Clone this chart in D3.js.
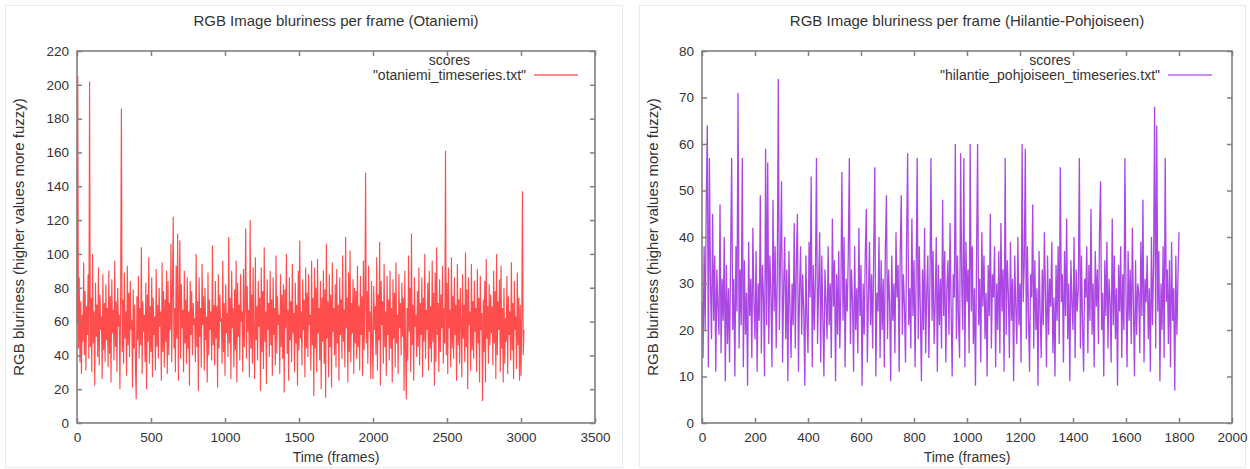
<!DOCTYPE html>
<html>
<head>
<meta charset="utf-8">
<script src="https://cdn.jsdelivr.net/npm/d3@7"></script>
<style>
  body { margin: 0; background: #fff; }
  text { font-family: "Liberation Sans", Arial, sans-serif; fill: #333; }
</style>
</head>
<body>
<svg id="chart"></svg>
<script>
// blur score, one value every `step` frames
var otaniemiStep = 5;
var otaniemiScores = [
  58, 205, 44, 86, 36, 72, 29, 64, 48, 95, 40, 78, 31, 69, 52, 88, 38, 202, 45, 74,
  30, 100, 47, 66, 22, 83, 51, 70, 39, 92, 34, 76, 55, 63, 26, 88, 43, 71, 36, 82,
  49, 68, 33, 90, 41, 75, 24, 85, 53, 67, 37, 96, 45, 72, 30, 80, 57, 64, 20, 78,
  186, 42, 73, 35, 89, 50, 66, 28, 93, 46, 77, 39, 84, 55, 61, 21, 79, 44, 70, 33,
  14, 75, 49, 87, 38, 68, 46, 104, 29, 72, 54, 64, 36, 83, 20, 76, 48, 98, 35, 69,
  42, 86, 27, 74, 52, 63, 31, 91, 45, 70, 38, 80, 57, 66, 25, 95, 42, 78, 33, 73,
  48, 90, 29, 84, 40, 71, 55, 106, 36, 79, 122, 44, 68, 30, 93, 50, 112, 25, 74, 108,
  38, 82, 56, 67, 30, 90, 47, 73, 35, 86, 44, 66, 22, 84, 52, 78, 40, 71, 58, 62,
  36, 100, 45, 72, 19, 86, 51, 68, 33, 94, 58, 75, 31, 80, 49, 63, 24, 89, 40, 73,
  55, 66, 37, 105, 46, 70, 34, 84, 50, 69, 21, 88, 44, 76, 60, 62, 35, 96, 42, 71,
  28, 82, 53, 65, 39, 110, 47, 74, 26, 90, 56, 68, 33, 79, 43, 96, 24, 83, 51, 70,
  37, 88, 60, 66, 30, 91, 45, 72, 115, 38, 81, 54, 67, 27, 120, 44, 76, 35, 92, 50,
  26, 98, 49, 69, 37, 84, 57, 74, 19, 92, 42, 78, 32, 104, 48, 66, 23, 85, 55, 71,
  39, 90, 46, 73, 28, 86, 52, 68, 34, 99, 41, 75, 58, 64, 29, 88, 45, 76, 38, 82,
  18, 79, 56, 100, 41, 67, 25, 86, 49, 72, 36, 94, 53, 65, 30, 83, 47, 70, 22, 90,
  43, 108, 50, 66, 34, 85, 55, 73, 27, 92, 44, 77, 39, 88, 58, 64, 31, 96, 46, 74,
  16, 92, 44, 80, 30, 97, 53, 68, 37, 84, 20, 74, 48, 90, 35, 79, 15, 106, 50, 72,
  27, 88, 45, 76, 21, 95, 54, 68, 40, 82, 33, 91, 47, 70, 25, 86, 52, 73, 38, 99,
  48, 67, 33, 110, 56, 74, 24, 89, 42, 102, 36, 71, 53, 85, 29, 80, 47, 78, 38, 93,
  45, 69, 31, 87, 52, 75, 28, 96, 43, 70, 148, 47, 78, 35, 93, 54, 66, 26, 84, 49,
  26, 81, 55, 69, 40, 98, 31, 76, 49, 107, 22, 84, 58, 72, 35, 94, 45, 66, 28, 87,
  52, 73, 37, 90, 44, 68, 24, 85, 50, 77, 33, 95, 47, 64, 29, 88, 56, 71, 40, 83,
  51, 74, 19, 90, 43, 14, 68, 37, 99, 54, 80, 30, 112, 46, 70, 25, 86, 57, 64, 39,
  78, 45, 92, 34, 71, 52, 86, 27, 74, 48, 100, 38, 67, 55, 83, 31, 90, 44, 69, 36,
  96, 48, 77, 22, 89, 36, 104, 52, 71, 30, 85, 42, 76, 56, 93, 35, 68, 47, 161, 40,
  83, 29, 92, 56, 67, 33, 98, 44, 75, 38, 86, 52, 70, 25, 94, 46, 73, 35, 80, 58,
  27, 88, 50, 70, 36, 101, 45, 79, 20, 86, 58, 66, 31, 94, 43, 72, 38, 84, 54, 68,
  30, 91, 47, 74, 24, 87, 55, 65, 13, 73, 42, 84, 24, 97, 50, 69, 35, 82, 46, 76,
  53, 69, 34, 90, 47, 78, 26, 100, 40, 72, 55, 85, 30, 93, 44, 68, 24, 80, 35, 62,
  48, 87, 29, 75, 52, 66, 37, 95, 43, 71, 26, 84, 55, 63, 32, 89, 46, 74, 25, 70,
  28, 60, 137, 40, 55
];

var hilantieStep = 4;
var hilantieScores = [
  26, 14, 38, 20, 47, 64, 12, 57, 30, 18, 45, 22, 36, 11, 33, 25, 19, 47, 15, 31,
  22, 40, 9, 34, 17, 29, 13, 36, 57, 20, 31, 10, 38, 24, 71, 16, 33, 21, 57, 12,
  35, 19, 28, 8, 39, 23, 31, 14, 42, 26, 18, 37, 11, 30, 22, 49, 15, 34, 27, 10,
  59, 21, 56, 17, 36, 28, 12, 48, 24, 38, 16, 31, 74, 20, 35, 52, 13, 29, 40, 18,
  33, 9, 37, 25, 14, 30, 21, 43, 16, 34, 45, 11, 28, 38, 19, 32, 24, 8, 36, 22,
  15, 39, 27, 53, 12, 34, 20, 31, 57, 17, 29, 41, 13, 36, 23, 10, 33, 26, 18, 38,
  21, 30, 14, 44, 25, 35, 9, 32, 19, 37, 16, 28, 54, 22, 40, 12, 31, 24, 36, 57,
  17, 33, 26, 11, 38, 20, 29, 15, 42, 23, 34, 8, 30, 19, 36, 46, 13, 27, 39, 21,
  32, 16, 37, 55, 10, 28, 24, 40, 14, 35, 20, 31, 12, 38, 49, 18, 33, 26, 9, 36,
  22, 30, 15, 41, 27, 34, 11, 37, 49, 19, 32, 25, 13, 39, 58, 21, 29, 16, 44, 23,
  35, 12, 31, 57, 18, 38, 24, 9, 33, 20, 42, 15, 28, 36, 14, 30, 57, 22, 37, 17,
  26, 40, 11, 34, 21, 31, 16, 48, 23, 37, 13, 29, 35, 19, 43, 25, 10, 32, 27, 60,
  18, 36, 22, 14, 58, 30, 20, 57, 12, 39, 26, 33, 15, 60, 24, 38, 17, 29, 8, 35,
  60, 21, 31, 13, 41, 25, 36, 18, 28, 10, 34, 23, 45, 16, 32, 27, 38, 12, 30, 20,
  37, 15, 43, 24, 33, 11, 57, 19, 35, 28, 14, 39, 22, 31, 9, 36, 25, 17, 40, 21,
  30, 13, 60, 26, 34, 59, 18, 38, 23, 11, 32, 27, 47, 16, 35, 20, 29, 8, 37, 24,
  14, 33, 21, 41, 28, 12, 36, 19, 31, 25, 39, 15, 27, 10, 34, 22, 38, 17, 55, 26,
  32, 13, 37, 23, 44, 18, 30, 9, 35, 26, 20, 40, 14, 33, 24, 29, 57, 16, 36, 21,
  11, 31, 27, 38, 15, 34, 22, 46, 19, 30, 12, 37, 25, 33, 17, 41, 52, 20, 28, 10,
  35, 23, 39, 16, 31, 26, 13, 44, 21, 36, 18, 29, 8, 34, 24, 38, 14, 32, 20, 57,
  27, 12, 37, 22, 33, 17, 42, 25, 10, 35, 19, 30, 28, 15, 39, 23, 48, 13, 31, 26,
  36, 18, 29, 11, 40, 21, 34, 68, 16, 64, 24, 37, 9, 30, 20, 38, 14, 57, 26, 33,
  17, 35, 12, 39, 22, 29, 7, 36, 19, 31, 41
];

var otaniemiXTicks = [0, 500, 1000, 1500, 2000, 2500, 3000, 3500];
var otaniemiYTicks = [0, 20, 40, 60, 80, 100, 120, 140, 160, 180, 200, 220];
var hilantieXTicks = [0, 200, 400, 600, 800, 1000, 1200, 1400, 1600, 1800, 2000];
var hilantieYTicks = [0, 10, 20, 30, 40, 50, 60, 70, 80];

var width = 1250,
    height = 469;

var svg = d3.select("#chart")
    .attr("width", width)
    .attr("height", height);

// each screenshot panel sits in a faint card
var panels = [
  {
    card: [5, 5, 617, 462], left: 77, right: 595, top: 51, bottom: 423,
    title: "RGB Image bluriness per frame (Otaniemi)",
    file: "\"otaniemi_timeseries.txt\"",
    values: otaniemiScores, step: otaniemiStep,
    xTicks: otaniemiXTicks, yTicks: otaniemiYTicks,
    color: "#ff0000", keyColor: "#ff8c8c",
    lineWidth: 1.15, lineOpacity: 0.7,
    keyEnd: 17
  },
  {
    card: [639, 5, 606, 462], left: 702, right: 1232, top: 51, bottom: 423,
    title: "RGB Image bluriness per frame (Hilantie-Pohjoiseen)",
    file: "\"hilantie_pohjoiseen_timeseries.txt\"",
    values: hilantieScores, step: hilantieStep,
    xTicks: hilantieXTicks, yTicks: hilantieYTicks,
    color: "#9414dc", keyColor: "#cf8cf5",
    lineWidth: 1.3, lineOpacity: 0.78,
    keyEnd: 20
  }
];

panels.forEach(function(p) {
  svg.append("rect")
      .attr("x", p.card[0] + 0.5)
      .attr("y", p.card[1] + 0.5)
      .attr("width", p.card[2])
      .attr("height", p.card[3])
      .attr("fill", "none")
      .attr("stroke", "#e6eaf4");

  var x = d3.scaleLinear()
      .domain(d3.extent(p.xTicks))
      .range([p.left, p.right]);
  var y = d3.scaleLinear()
      .domain(d3.extent(p.yTicks))
      .range([p.bottom, p.top]);

  // the data line, drawn first so the frame sits over it
  var line = d3.line()
      .x(function(d, i) { return x(i * p.step); })
      .y(function(d) { return y(d); });

  svg.append("path")
      .datum(p.values)
      .attr("d", line)
      .attr("fill", "none")
      .attr("stroke", p.color)
      .attr("stroke-width", p.lineWidth)
      .attr("stroke-opacity", p.lineOpacity);

  // gnuplot style: ticks point inwards on all four sides
  var gb = svg.append("g")
      .attr("transform", "translate(0," + p.bottom + ")")
      .call(d3.axisBottom(x).tickValues(p.xTicks).tickFormat(d3.format("d"))
          .tickSizeInner(-5).tickSizeOuter(0).tickPadding(9));
  var gl = svg.append("g")
      .attr("transform", "translate(" + p.left + ",0)")
      .call(d3.axisLeft(y).tickValues(p.yTicks).tickFormat(d3.format("d"))
          .tickSizeInner(-5).tickSizeOuter(0).tickPadding(8));
  var gt = svg.append("g")
      .attr("transform", "translate(0," + p.top + ")")
      .call(d3.axisTop(x).tickValues(p.xTicks).tickFormat("")
          .tickSizeInner(-5).tickSizeOuter(0));
  var gr = svg.append("g")
      .attr("transform", "translate(" + p.right + ",0)")
      .call(d3.axisRight(y).tickValues(p.yTicks).tickFormat("")
          .tickSizeInner(-5).tickSizeOuter(0));

  [gb, gl, gt, gr].forEach(function(g) {
    g.select(".domain").remove();
    g.selectAll(".tick line").attr("stroke", "#808080").attr("stroke-width", 1.5);
    g.selectAll(".tick text")
        .attr("font-size", "13.5px")
        .attr("font-family", "Liberation Sans, Arial, sans-serif")
        .attr("fill", "#3a3a3a");
  });

  svg.append("rect")
      .attr("x", p.left)
      .attr("y", p.top)
      .attr("width", p.right - p.left)
      .attr("height", p.bottom - p.top)
      .attr("fill", "none")
      .attr("stroke", "#808080")
      .attr("stroke-width", 1.6);

  var cx = (p.left + p.right) / 2;

  svg.append("text")
      .attr("x", cx)
      .attr("y", 21)
      .attr("dy", "0.35em")
      .attr("text-anchor", "middle")
      .attr("font-size", "15px")
      .text(p.title);

  svg.append("text")
      .attr("x", cx)
      .attr("y", 457)
      .attr("dy", "0.35em")
      .attr("text-anchor", "middle")
      .attr("font-size", "14px")
      .text("Time (frames)");

  svg.append("text")
      .attr("transform", "translate(" + (p.card[0] + 14) + "," + ((p.top + p.bottom) / 2) + ") rotate(-90)")
      .attr("dy", "0.35em")
      .attr("text-anchor", "middle")
      .attr("font-size", "15px")
      .text("RGB bluriness (higher values more fuzzy)");

  // key
  var keyX2 = p.right - p.keyEnd,
      keyX1 = keyX2 - 44;

  svg.append("line")
      .attr("x1", keyX1)
      .attr("x2", keyX2)
      .attr("y1", 75)
      .attr("y2", 75)
      .attr("stroke", p.keyColor)
      .attr("stroke-width", 2);

  var fileText = svg.append("text")
      .attr("x", keyX1 - 8)
      .attr("y", 75)
      .attr("dy", "0.35em")
      .attr("text-anchor", "end")
      .attr("font-size", "14px")
      .text(p.file);

  var w = fileText.node().getComputedTextLength();
  svg.append("text")
      .attr("x", keyX1 - 8 - w / 2)
      .attr("y", 60)
      .attr("dy", "0.35em")
      .attr("text-anchor", "middle")
      .attr("font-size", "14px")
      .text("scores");
});
</script>
</body>
</html>
